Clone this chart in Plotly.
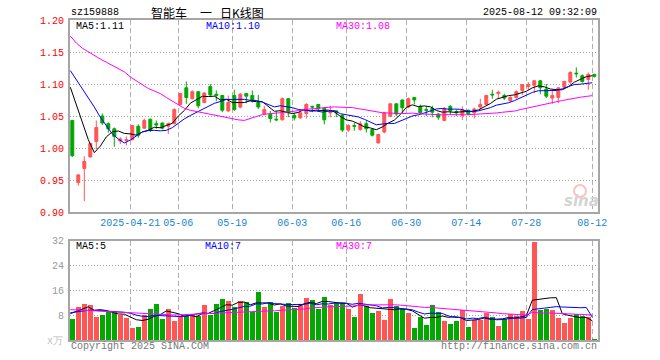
import plotly.graph_objects as go
import pandas as pd

# ---------------- data ----------------
dates = [
    "2025-04-07", "2025-04-08", "2025-04-09", "2025-04-10", "2025-04-11", "2025-04-14", "2025-04-15",
    "2025-04-16", "2025-04-17", "2025-04-18", "2025-04-21", "2025-04-22", "2025-04-23", "2025-04-24",
    "2025-04-25", "2025-04-28", "2025-04-29", "2025-04-30", "2025-05-06", "2025-05-07", "2025-05-08",
    "2025-05-09", "2025-05-12", "2025-05-13", "2025-05-14", "2025-05-15", "2025-05-16", "2025-05-19",
    "2025-05-20", "2025-05-21", "2025-05-22", "2025-05-23", "2025-05-26", "2025-05-27", "2025-05-28",
    "2025-05-29", "2025-05-30", "2025-06-03", "2025-06-04", "2025-06-05", "2025-06-06", "2025-06-09",
    "2025-06-10", "2025-06-11", "2025-06-12", "2025-06-13", "2025-06-16", "2025-06-17", "2025-06-18",
    "2025-06-19", "2025-06-20", "2025-06-23", "2025-06-24", "2025-06-25", "2025-06-26", "2025-06-27",
    "2025-06-30", "2025-07-01", "2025-07-02", "2025-07-03", "2025-07-04", "2025-07-07", "2025-07-08",
    "2025-07-09", "2025-07-10", "2025-07-11", "2025-07-14", "2025-07-15", "2025-07-16", "2025-07-17",
    "2025-07-18", "2025-07-21", "2025-07-22", "2025-07-23", "2025-07-24", "2025-07-25", "2025-07-28",
    "2025-07-29", "2025-07-30", "2025-07-31", "2025-08-01", "2025-08-04", "2025-08-05", "2025-08-06",
    "2025-08-07", "2025-08-08", "2025-08-11", "2025-08-12",
]

open_ = [1.043, 0.946, 0.968, 0.986, 1.010, 1.050, 1.038, 1.030, 1.011, 1.012,
         1.013, 1.034, 1.031, 1.045, 1.038, 1.039, 1.034, 1.038, 1.068, 1.094,
         1.077, 1.088, 1.071, 1.096, 1.084, 1.082, 1.058, 1.082, 1.064, 1.085,
         1.082, 1.071, 1.053, 1.053, 1.045, 1.044, 1.077, 1.051, 1.047, 1.054,
         1.065, 1.068, 1.062, 1.055, 1.058, 1.051, 1.028, 1.035, 1.029, 1.038,
         1.029, 1.008, 1.025, 1.050, 1.069, 1.075, 1.064, 1.079, 1.065, 1.060,
         1.062, 1.053, 1.043, 1.065, 1.057, 1.051, 1.059, 1.055, 1.064, 1.068,
         1.084, 1.085, 1.082, 1.074, 1.079, 1.090, 1.096, 1.098, 1.105, 1.092,
         1.078, 1.079, 1.095, 1.103, 1.117, 1.113, 1.107, 1.115]
high = [1.043, 0.959, 0.987, 1.008, 1.043, 1.054, 1.040, 1.032, 1.017, 1.018,
        1.036, 1.037, 1.046, 1.046, 1.043, 1.040, 1.040, 1.062, 1.086, 1.104,
        1.090, 1.089, 1.087, 1.100, 1.090, 1.083, 1.082, 1.091, 1.086, 1.086,
        1.090, 1.083, 1.066, 1.058, 1.057, 1.079, 1.078, 1.055, 1.058, 1.070,
        1.066, 1.068, 1.064, 1.066, 1.059, 1.053, 1.037, 1.039, 1.042, 1.042,
        1.031, 1.022, 1.056, 1.070, 1.070, 1.076, 1.079, 1.079, 1.068, 1.065,
        1.066, 1.055, 1.064, 1.067, 1.060, 1.065, 1.060, 1.063, 1.077, 1.083,
        1.091, 1.090, 1.085, 1.081, 1.090, 1.100, 1.103, 1.106, 1.106, 1.100,
        1.089, 1.095, 1.105, 1.120, 1.126, 1.115, 1.118, 1.116]
low = [0.986, 0.941, 0.917, 0.985, 0.998, 1.036, 1.024, 1.002, 1.006, 1.004,
       1.012, 1.016, 1.030, 1.025, 1.030, 1.029, 1.022, 1.037, 1.067, 1.069,
       1.076, 1.062, 1.070, 1.080, 1.073, 1.056, 1.056, 1.058, 1.062, 1.070,
       1.071, 1.061, 1.053, 1.040, 1.042, 1.043, 1.048, 1.043, 1.046, 1.046,
       1.056, 1.057, 1.037, 1.048, 1.048, 1.025, 1.025, 1.027, 1.027, 1.024,
       1.018, 1.007, 1.023, 1.048, 1.050, 1.055, 1.062, 1.068, 1.053, 1.050,
       1.048, 1.044, 1.042, 1.052, 1.050, 1.044, 1.051, 1.046, 1.060, 1.067,
       1.077, 1.078, 1.075, 1.072, 1.077, 1.083, 1.091, 1.086, 1.084, 1.078,
       1.069, 1.070, 1.094, 1.100, 1.110, 1.102, 1.091, 1.110]
close = [0.988, 0.958, 0.979, 1.007, 1.032, 1.039, 1.030, 1.018, 1.014, 1.013,
         1.035, 1.020, 1.043, 1.028, 1.036, 1.031, 1.038, 1.060, 1.085, 1.079,
         1.088, 1.066, 1.086, 1.083, 1.082, 1.059, 1.071, 1.060, 1.084, 1.081,
         1.073, 1.064, 1.060, 1.046, 1.044, 1.077, 1.055, 1.047, 1.055, 1.068,
         1.064, 1.062, 1.044, 1.058, 1.055, 1.028, 1.035, 1.034, 1.038, 1.030,
         1.020, 1.021, 1.055, 1.069, 1.053, 1.063, 1.077, 1.075, 1.055, 1.059,
         1.056, 1.048, 1.062, 1.058, 1.055, 1.060, 1.053, 1.061, 1.068, 1.082,
         1.083, 1.087, 1.078, 1.079, 1.088, 1.099, 1.099, 1.105, 1.094, 1.081,
         1.082, 1.094, 1.104, 1.118, 1.116, 1.104, 1.115, 1.112]
volume = [6.8, 10.6, 11.7, 11.2, 7.5, 8.0, 9.0, 9.4, 8.1, 7.1,
          3.9, 4.2, 8.2, 10.1, 11.7, 6.8, 10.1, 6.1, 7.7, 7.7,
          8.2, 7.7, 11.4, 8.0, 11.7, 13.3, 12.5, 10.7, 12.5, 12.2,
          9.0, 15.5, 10.7, 12.2, 9.0, 10.9, 12.0, 10.4, 11.7, 13.6,
          13.0, 10.1, 13.8, 11.5, 12.0, 12.0, 10.1, 7.4, 14.9, 10.9,
          8.8, 9.3, 6.5, 13.3, 10.9, 10.1, 8.8, 3.9, 7.5, 4.9,
          11.2, 9.0, 6.1, 5.3, 6.1, 9.8, 4.2, 6.4, 6.4, 8.8,
          7.5, 4.6, 6.8, 8.5, 7.9, 9.3, 6.8, 31.7, 9.6, 10.1,
          9.8, 7.1, 5.7, 7.1, 8.5, 7.7, 7.4, 0.3]

# moving-average values at the left edge (history before the visible window)
ma5_head = [1.095, 1.067, 1.040, 1.013]
ma10_head = [1.121, 1.107, 1.093, 1.078, 1.064, 1.048, 1.034, 1.022, 1.014]
ma30_head = [1.175, 1.164, 1.156, 1.150, 1.145, 1.139, 1.134, 1.129, 1.124, 1.119,
             1.111, 1.105, 1.099, 1.093, 1.089, 1.085, 1.079, 1.073, 1.067, 1.062,
             1.059, 1.057, 1.055, 1.053, 1.051, 1.049, 1.047, 1.046, 1.044]
vma5_head = [8.5, 9.2, 10.1, 10.7]
vma10_head = [8.8, 9.1, 9.4, 9.6, 9.6, 9.5, 9.4, 9.3, 9.1]
vma30_head = [9.8, 9.7, 9.6, 9.5, 9.4, 9.3, 9.2, 9.1, 9.0, 8.9,
              8.7, 8.6, 8.4, 8.3, 8.2, 8.1, 8.1, 8.1, 8.1, 8.2,
              8.2, 8.3, 8.4, 8.5, 8.6, 8.7, 8.8, 8.9, 9.0]

tick_dates = ["2025-04-21", "2025-05-06", "2025-05-19", "2025-06-03", "2025-06-16",
              "2025-06-30", "2025-07-14", "2025-07-28", "2025-08-12"]
tick_labels = ["2025-04-21", "05-06", "05-19", "06-03", "06-16", "06-30", "07-14", "07-28", "08-12"]
price_ticks = [0.90, 0.95, 1.00, 1.05, 1.10, 1.15, 1.20]
price_tick_labels = ["0.90", "0.95", "1.00", "1.05", "1.10", "1.15", "1.20"]
vol_ticks = [8, 16, 24, 32]
vol_tick_labels = ["8", "16", "24", "32"]

# ---------------- styling ----------------
RED = "#ff5555"
GREEN = "#00a800"
MONO = "Liberation Mono"
CJK = "Noto Sans CJK SC"
W, H = 660, 360
L, R, T, B = 70, 62, 20, 20
SHIFT = -0.33           # lines/grid are drawn at the left part of each slot


def ma(values, n, head):
    s = pd.Series(values, dtype=float).rolling(n).mean()
    return list(head) + list(s.iloc[len(head):])


def px(x):  # window pixel -> paper fraction
    return (x - L) / (W - L - R)


def py(y):
    return (H - B - y) / (H - T - B)


idx = list(range(len(dates)))
line_x = [i + SHIFT for i in idx]

ma5 = ma(close, 5, ma5_head)
ma10 = ma(close, 10, ma10_head)
ma30 = ma(close, 30, ma30_head)
vma5 = ma(volume, 5, vma5_head)
vma10 = ma(volume, 10, vma10_head)
vma30 = ma(volume, 30, vma30_head)

vol_colors = [RED if c >= o else GREEN for o, c in zip(open_, close)]

fig = go.Figure()
fig.add_trace(go.Candlestick(
    x=idx, open=open_, high=high, low=low, close=close,
    increasing=dict(line=dict(color=RED, width=1), fillcolor=RED),
    decreasing=dict(line=dict(color=GREEN, width=1), fillcolor=GREEN),
    whiskerwidth=0, hoverinfo="skip", xaxis="x", yaxis="y", showlegend=False,
))
for ys, col in ((ma5, "#000000"), (ma10, "#0000ff"), (ma30, "#ff00ff")):
    fig.add_trace(go.Scatter(x=line_x, y=ys, mode="lines", line=dict(color=col, width=1),
                             hoverinfo="skip", showlegend=False, xaxis="x", yaxis="y"))

fig.add_trace(go.Bar(x=idx, y=volume, marker=dict(color=vol_colors, line=dict(width=0)),
                     width=0.82, hoverinfo="skip", showlegend=False, xaxis="x2", yaxis="y2"))
for ys, col in ((vma5, "#000000"), (vma10, "#0000ff"), (vma30, "#ff00ff")):
    fig.add_trace(go.Scatter(x=line_x, y=ys, mode="lines", line=dict(color=col, width=1),
                             hoverinfo="skip", showlegend=False, xaxis="x2", yaxis="y2"))

tickpos = [dates.index(d) + SHIFT for d in tick_dates]
xrange = [-0.383, len(dates) - 0.383]
axis_line = dict(showline=True, mirror=True, linecolor="#a6a6a6", linewidth=2, zeroline=False,
                 automargin=False)

fig.update_layout(
    width=W, height=H, margin=dict(l=L, r=R, t=T, b=B, autoexpand=False),
    paper_bgcolor="white", plot_bgcolor="white",
    showlegend=False, hovermode=False, bargap=0,
    xaxis=dict(domain=[0, 1], anchor="y", range=xrange, tickmode="array", tickvals=tickpos,
               ticktext=tick_labels, tickfont=dict(family=MONO, size=10, color="#1a86d0"),
               showgrid=True, gridcolor="#b0b0b0", gridwidth=1, griddash="5px,3px",
               rangeslider=dict(visible=False), ticks="", fixedrange=True, **axis_line),
    yaxis=dict(domain=[0.4, 1.0], anchor="x", range=[0.90, 1.20], tickmode="array",
               tickvals=price_ticks, ticktext=price_tick_labels,
               tickfont=dict(family=MONO, size=10, color="#ff0000"),
               showgrid=True, gridcolor="#a0a0a0", gridwidth=1, griddash="1px,2px",
               ticks="", ticklabelstandoff=2, fixedrange=True, **axis_line),
    xaxis2=dict(domain=[0, 1], anchor="y2", range=xrange, tickmode="array", tickvals=tickpos,
                showticklabels=False, showgrid=True, gridcolor="#b0b0b0", gridwidth=1,
                griddash="5px,3px", ticks="", fixedrange=True, **axis_line),
    yaxis2=dict(domain=[0, 0.31], anchor="x2", range=[0, 32], tickmode="array",
                tickvals=vol_ticks, ticktext=vol_tick_labels,
                tickfont=dict(family=MONO, size=10, color="#999999"),
                showgrid=True, gridcolor="#a0a0a0", gridwidth=1, griddash="1px,2px",
                ticks="", ticklabelstandoff=2, fixedrange=True, **axis_line),
)


def note(text, x, y, color="#000000", size=10, family=MONO, xanchor="left", **kw):
    fig.add_annotation(text=text, x=px(x), y=py(y), xref="paper", yref="paper",
                       xanchor=xanchor, yanchor="middle", showarrow=False, borderpad=0,
                       font=dict(family=family, size=size, color=color, **kw))


note("sz159888", 69.5, 13)
note("智能车", 150, 12.5, size=12, family=CJK)
note("一", 199, 12.5, size=12, family=CJK)
note("日K线图", 219, 12.5, size=12, family=CJK)
note("2025-08-12 09:32:09", 598, 13, xanchor="right")

note("MA5:1.11", 74.5, 26.5)
note("MA10:1.10", 204.5, 26.5, color="#0000ff")
note("MA30:1.08", 334.7, 26.5, color="#ff00ff")

note("MA5:5", 74.5, 246.5)
note("MA10:7", 204.3, 246.5, color="#0000ff")
note("MA30:7", 334.7, 246.5, color="#ff00ff")

note("x万", 64, 341, color="#c0c0c0", xanchor="right")
note("Copyright 2025 SINA.COM", 69.5, 346, color="#777777")
note("http://finance.sina.com.cn", 597.5, 346, color="#777777", xanchor="right")

# sina watermark
fig.add_shape(type="circle", xref="paper", yref="paper",
              x0=px(574), x1=px(586), y0=py(197), y1=py(185),
              line=dict(color="rgba(235,120,120,0.45)", width=2), fillcolor="rgba(0,0,0,0)")
note("sina", 581, 201, color="#d4d4d4", size=15, family="DejaVu Sans", xanchor="center",
     weight="bold", style="italic")

# the page's default 8px body margin would push the 660x360 figure out of the window
fig.write_html("out.html", config={"displayModeBar": False},
               post_script="document.body.style.margin='0px';")
